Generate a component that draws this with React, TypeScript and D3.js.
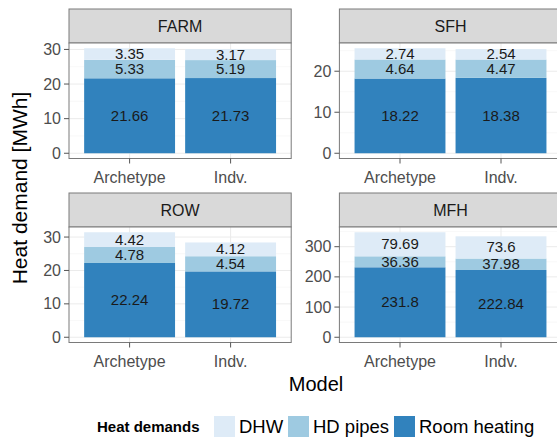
import * as d3 from 'd3'

const facets = ['FARM', 'SFH', 'ROW', 'MFH']
const models = ['Archetype', 'Indv.']
const seriesKeys = ['Room heating', 'HD pipes', 'DHW']
// per facet: [Archetype, Indv.]
const roomHeating = [[21.66, 21.73], [18.22, 18.38], [22.24, 19.72], [231.8, 222.84]]
const hdPipes = [[5.33, 5.19], [4.64, 4.47], [4.78, 4.54], [36.36, 37.98]]
const dhw = [[3.35, 3.17], [2.74, 2.54], [4.42, 4.12], [79.69, 73.6]]
const legendOrder = ['DHW', 'HD pipes', 'Room heating']

const W = 557
const H = 439
const font = "'Liberation Sans', Arial, Helvetica, sans-serif"

const color = d3.scaleOrdinal<string, string>()
  .domain(['DHW', 'HD pipes', 'Room heating'])
  .range(['#deebf7', '#9ecae1', '#3182bd'])

// panel layout
const colX = [69, 339.4]
const panelW = 222.2
const rowTop = [9, 193]
const stripH = 34
const panelH = 115.5

type Row = { model: string; 'Room heating': number; 'HD pipes': number; DHW: number }

const Panel = ({ fi }: { fi: number }) => {
  const x0 = colX[fi % 2]
  const top = rowTop[Math.floor(fi / 2)]
  const py0 = top + stripH
  const py1 = py0 + panelH

  const rows: Row[] = models.map((m, i) => ({
    model: m,
    'Room heating': roomHeating[fi][i],
    'HD pipes': hdPipes[fi][i],
    DHW: dhw[fi][i],
  }))
  const stacked = d3.stack<Row>().keys(seriesKeys)(rows)
  const maxV = d3.max(stacked[stacked.length - 1], d => d[1]) || 0
  const pad = maxV * 0.05

  const x = d3.scaleBand<string>()
    .domain(models)
    .range([x0, x0 + panelW])
    .paddingInner(0.1)
    .paddingOuter(0.15)
  const y = d3.scaleLinear().domain([-pad, maxV + pad]).range([py1, py0])

  const ticks = y.ticks(3)
  const step = ticks[1] - ticks[0]
  const minor = d3.range(ticks[0] - step / 2, maxV + pad + step, step)
    .filter(v => v > -pad && v < maxV + pad)

  const clipId = `clip${fi}`

  return (
    <g>
      <defs>
        <clipPath id={clipId}>
          <rect x={x0} y={py0} width={panelW} height={panelH} />
        </clipPath>
      </defs>
      {/* strip */}
      <rect x={x0} y={top} width={panelW} height={stripH} fill="#d9d9d9" stroke="#7a7a7a" strokeWidth={1} />
      <text x={x0 + panelW / 2} y={top + stripH / 2 + 5.5} textAnchor="middle" fontSize={16} fill="#1a1a1a">
        {facets[fi]}
      </text>
      {/* panel */}
      <rect x={x0} y={py0} width={panelW} height={panelH} fill="white" />
      <g clipPath={`url(#${clipId})`}>
        {minor.map(v => (
          <line key={'m' + v} x1={x0} x2={x0 + panelW} y1={y(v)} y2={y(v)} stroke="#f3f3f3" strokeWidth={0.6} />
        ))}
        {ticks.map(v => (
          <line key={'g' + v} x1={x0} x2={x0 + panelW} y1={y(v)} y2={y(v)} stroke="#ebebeb" strokeWidth={1} />
        ))}
        {models.map(m => (
          <line key={'v' + m} x1={x(m)! + x.bandwidth() / 2} x2={x(m)! + x.bandwidth() / 2} y1={py0} y2={py1} stroke="#ebebeb" strokeWidth={1} />
        ))}
        {stacked.map(s => (
          <g key={s.key} fill={color(s.key)}>
            {s.map((d, i) => (
              <rect key={i} x={x(d.data.model)} width={x.bandwidth()} y={y(d[1])} height={y(d[0]) - y(d[1])} />
            ))}
          </g>
        ))}
        {stacked.map(s => (
          <g key={'t' + s.key}>
            {s.map((d, i) => (
              <text key={i} x={x(d.data.model)! + x.bandwidth() / 2} y={y((d[0] + d[1]) / 2) + 5}
                textAnchor="middle" fontSize={15} fill="#1a1a1a">
                {String(d.data[s.key as keyof Row])}
              </text>
            ))}
          </g>
        ))}
      </g>
      <rect x={x0} y={py0} width={panelW} height={panelH} fill="none" stroke="#7a7a7a" strokeWidth={1} />
      {/* y axis */}
      {ticks.map(v => (
        <g key={'yt' + v}>
          <line x1={x0 - 5} x2={x0} y1={y(v)} y2={y(v)} stroke="#555" strokeWidth={1} />
          <text x={x0 - 8} y={y(v) + 5.5} textAnchor="end" fontSize={16} fill="#4d4d4d">{v}</text>
        </g>
      ))}
      {/* x axis */}
      {models.map(m => (
        <g key={'xt' + m}>
          <line x1={x(m)! + x.bandwidth() / 2} x2={x(m)! + x.bandwidth() / 2} y1={py1} y2={py1 + 5} stroke="#555" strokeWidth={1} />
          <text x={x(m)! + x.bandwidth() / 2} y={py1 + 24.5} textAnchor="middle" fontSize={16} fill="#4d4d4d">{m}</text>
        </g>
      ))}
    </g>
  )
}

const App = () => {
  // legend positions
  const keyX = [214, 288, 394]
  return (
    <svg width={W} height={H} style={{ position: 'absolute', left: 0, top: 0, background: 'white' }} fontFamily={font}>
      <rect width={W} height={H} fill="white" />
      {facets.map((f, i) => <Panel key={f} fi={i} />)}
      <text transform="translate(27,188) rotate(-90)" textAnchor="middle" fontSize={21} fill="#000">
        Heat demand [MWh]
      </text>
      <text x={316} y={391} textAnchor="middle" fontSize={20} fill="#000">Model</text>
      <text x={97} y={432} fontSize={15} fontWeight="bold" fill="#000">Heat demands</text>
      {legendOrder.map((k, i) => (
        <g key={k}>
          <rect x={keyX[i]} y={416} width={21} height={21} fill={color(k)} />
          <text x={keyX[i] + 25} y={433} fontSize={18.5} fill="#000">{k}</text>
        </g>
      ))}
    </svg>
  )
}

export default App
